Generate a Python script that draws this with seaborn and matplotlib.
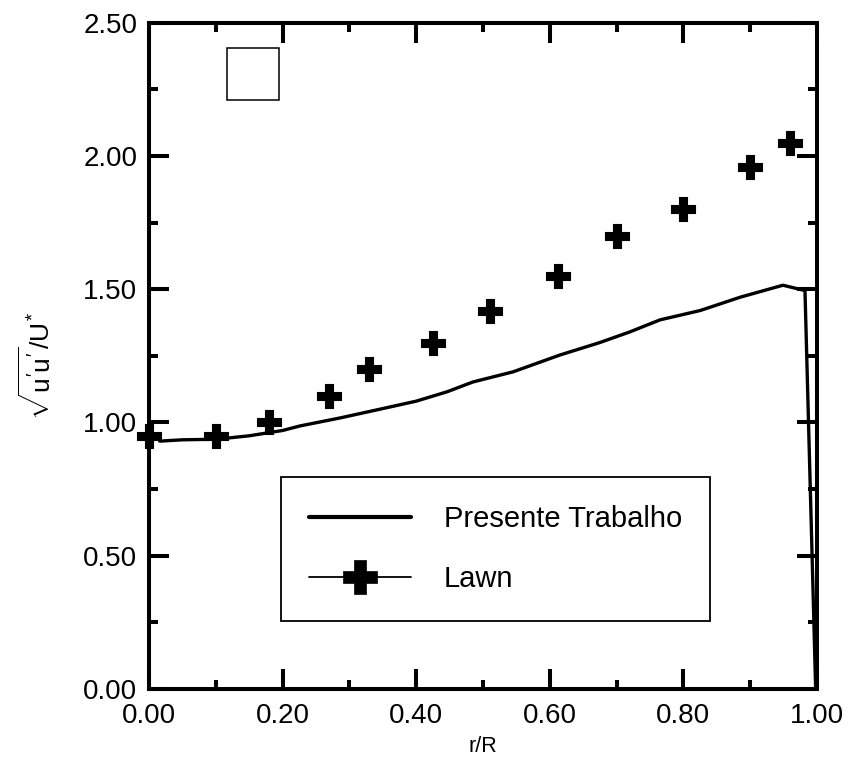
import matplotlib
matplotlib.use("Agg")
import matplotlib.pyplot as plt
import seaborn as sns
import pandas as pd
from matplotlib.lines import Line2D
from matplotlib.patches import Rectangle
from matplotlib.ticker import MultipleLocator, FormatStrFormatter

# ---- data ----
model_r = [0.016, 0.05, 0.10, 0.15, 0.20, 0.226, 0.286, 0.346, 0.40, 0.446, 0.485,
           0.545, 0.615, 0.675, 0.72, 0.765, 0.825, 0.885, 0.949, 0.982, 0.998]
model_u = [0.930, 0.935, 0.937, 0.950, 0.970, 0.987, 1.017, 1.050, 1.080, 1.115, 1.152,
           1.190, 1.253, 1.300, 1.340, 1.385, 1.420, 1.470, 1.515, 1.495, 0.0]
lawn_r = [0.00, 0.10, 0.18, 0.27, 0.33, 0.425, 0.51, 0.612, 0.70, 0.80, 0.90, 0.96]
lawn_u = [0.95, 0.95, 1.00, 1.10, 1.20, 1.30, 1.42, 1.55, 1.70, 1.80, 1.96, 2.05]

xticks = [0.0, 0.2, 0.4, 0.6, 0.8, 1.0]
yticks = [0.0, 0.5, 1.0, 1.5, 2.0, 2.5]

labels = ["Presente Trabalho", "Lawn"]

sns.set_style("ticks")
plt.rcParams['font.family'] = ['Liberation Sans', 'DejaVu Sans']
plt.rcParams['mathtext.fontset'] = 'custom'
plt.rcParams['mathtext.rm'] = 'Liberation Sans'
plt.rcParams['mathtext.it'] = 'Liberation Sans'
plt.rcParams['text.color'] = 'black'
plt.rcParams['axes.labelcolor'] = 'black'
plt.rcParams['xtick.color'] = 'black'
plt.rcParams['ytick.color'] = 'black'

fig = plt.figure(figsize=(8.49, 7.57), dpi=100)
ax = fig.add_axes([149/849, 1-689/757, (817-149)/849, (689-22.7)/757])

df_m = pd.DataFrame({"r": model_r, "u": model_u})
df_l = pd.DataFrame({"r": lawn_r, "u": lawn_u})

sns.lineplot(data=df_m, x="r", y="u", sort=False, estimator=None, color="black",
             linewidth=2.4, ax=ax, zorder=3)
sns.scatterplot(data=df_l, x="r", y="u", marker="P", s=300, color="black",
                edgecolor="black", linewidth=0.8, ax=ax, zorder=5, clip_on=False)

ax.set_xlim(0, 1)
ax.set_ylim(0, 2.5)
ax.set_xticks(xticks)
ax.set_yticks(yticks)
ax.xaxis.set_minor_locator(MultipleLocator(0.1))
ax.yaxis.set_minor_locator(MultipleLocator(0.25))
ax.xaxis.set_major_formatter(FormatStrFormatter('%.2f'))
ax.yaxis.set_major_formatter(FormatStrFormatter('%.2f'))

for s in ax.spines.values():
    s.set_linewidth(2.9)
    s.set_color("black")
    s.set_visible(True)

ax.tick_params(which='major', direction='in', length=14.5, width=2.9,
               top=True, right=True, labelsize=20, colors='black', labelcolor='black')
ax.tick_params(axis='x', which='major', pad=10)
ax.tick_params(axis='y', which='major', pad=8.5)
ax.tick_params(which='minor', direction='in', length=6.5, width=2.9,
               top=True, right=True)

ax.set_xlabel("r/R", fontsize=15.5, labelpad=5, color='black')
ax.set_ylabel(r"$\sqrt{u^{\prime}u^{\prime}}/U^{*}$", fontsize=19, labelpad=20,
              color='black')
ax.yaxis.label.set_y(0.485)

# empty square
ax.add_patch(Rectangle((0.1168, 0.884), 0.0778, 0.078, transform=ax.transAxes,
                       fill=False, edgecolor='black', linewidth=1.1))

handles = [Line2D([], [], color='black', linewidth=3.0),
           Line2D([], [], color='black', linewidth=1.3, marker='P', markersize=25,
                  markeredgewidth=0.5)]
leg = ax.legend(handles, labels, loc='upper left', bbox_to_anchor=(0.1976, 0.318),
                fontsize=21, frameon=True, fancybox=False, framealpha=1,
                edgecolor='black', handlelength=3.5, handletextpad=1.13,
                borderpad=0.95, labelspacing=1.12, borderaxespad=0)
leg.get_frame().set_linewidth(1.3)
for t in leg.get_texts():
    t.set_color('black')

fig.savefig("out.png", dpi=100, facecolor='white')
